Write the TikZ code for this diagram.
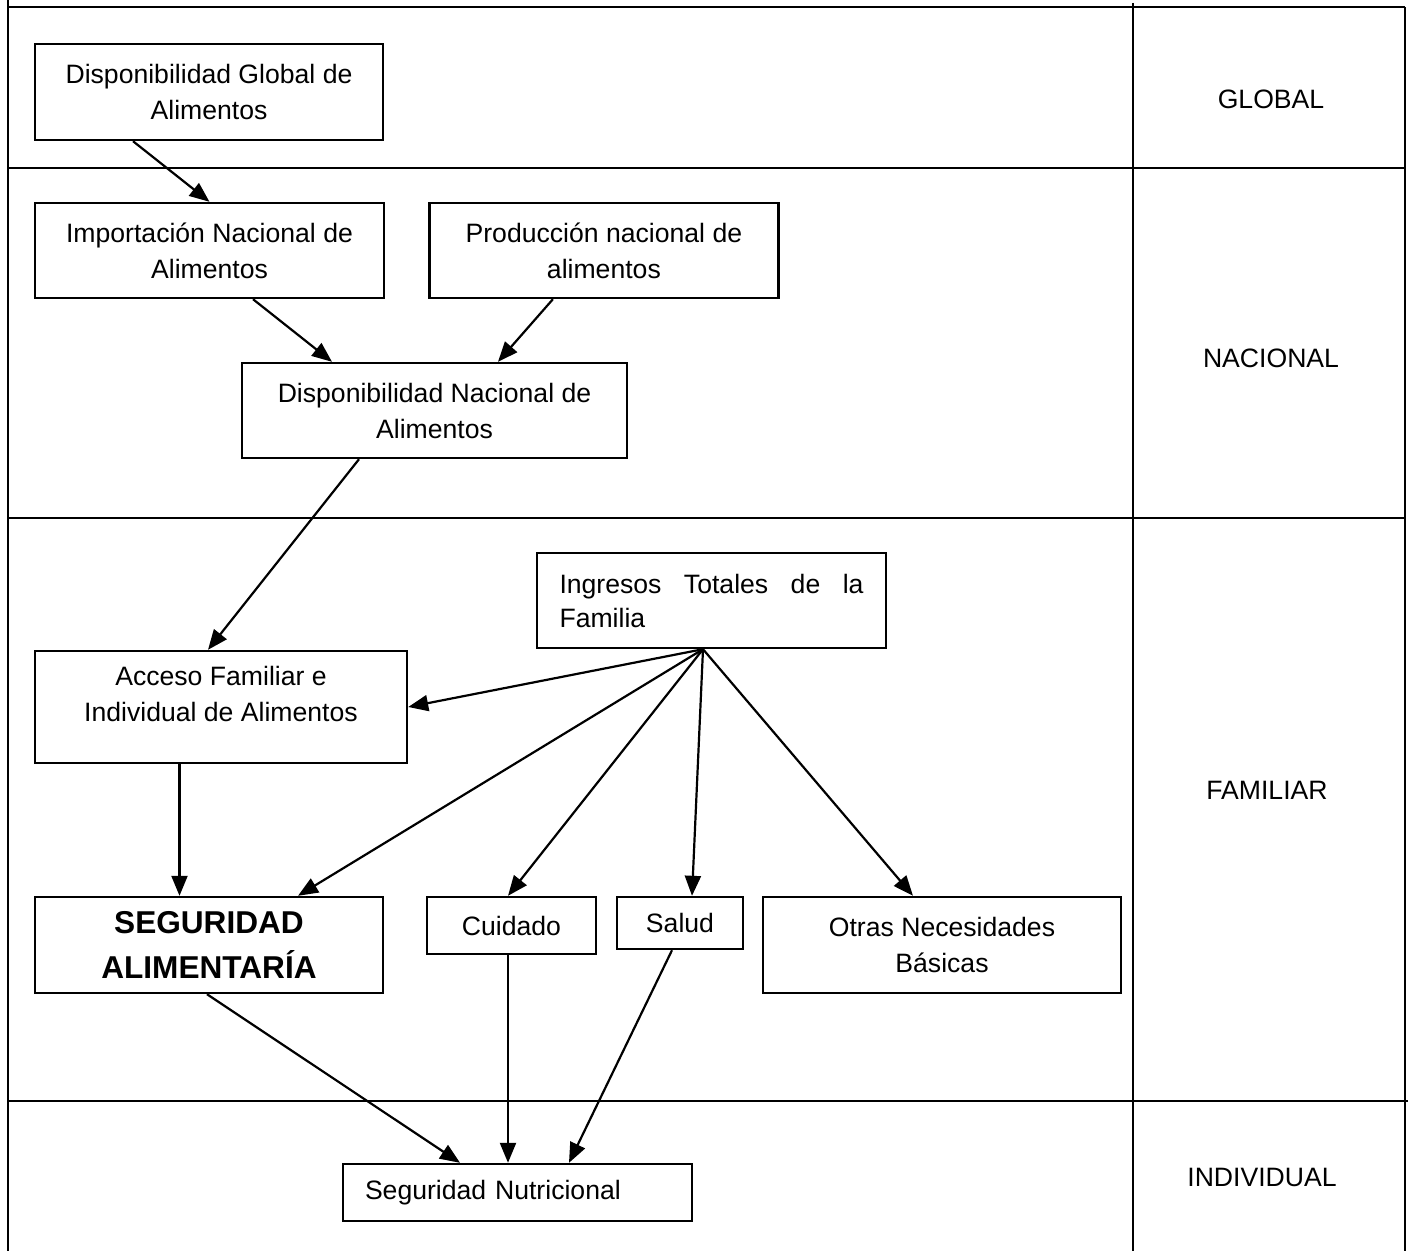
\documentclass[tikz,border=0pt]{standalone}
\usepackage{fontspec}
\setmainfont{Liberation Sans}
\usetikzlibrary{arrows.meta,positioning}
\tikzset{>={Triangle[length=10pt,width=8pt]},node distance=2cm}
\tikzset{box/.style={draw,line width=1.2pt,align=center,inner sep=0pt,
    font=\fontsize{13.3}{18}\selectfont},
  nivel/.style={font=\fontsize{13.3}{18}\selectfont},
  flecha/.style={->,line width=1.1pt},
  rejilla/.style={line width=1.1pt}}

\begin{document}
\begin{tikzpicture}[x=0.5pt,y=-0.5pt]
                \useasboundingbox (0,0) rectangle (1408,1251);
                % tabla de niveles
                \draw[rejilla] (8,0) -- (8,1251);
                \draw[rejilla] (8,7) -- (1405,7);
                \draw[rejilla] (1133,3) -- (1133,1251);
                \draw[rejilla] (1405,7) -- (1405,1251);
                \draw[rejilla] (8,168) -- (1405,168);
                \draw[rejilla] (8,518) -- (1405,518);
                \draw[rejilla] (8,1101) -- (1408,1101);
                \node[nivel] (global) at (1271,99) {GLOBAL};
                \node[nivel] (nacional) at (1271,358) {NACIONAL};
                \node[nivel] (familiar) at (1267,790) {FAMILIAR};
                \node[nivel] (individual) at (1262,1177) {INDIVIDUAL};
                % cajas
                \node[box,minimum width=174pt,minimum height=48pt] (glob) at (209,92) {Disponibilidad Global de\\Alimentos};
                \node[box,minimum width=174.5pt,minimum height=47.5pt] (imp) at (209.5,250.5) {Importación Nacional de\\Alimentos};
                \node[box,minimum width=174.5pt,minimum height=47.5pt] (prod) [right=21.5pt of imp] {Producción nacional de\\alimentos};
                \node[box,minimum width=192.5pt,minimum height=47.5pt] (dnac) at (434.5,410.5) {Disponibilidad Nacional de\\Alimentos};
                \node[box,text width=152pt,inner xsep=11.25pt,align=justify,minimum height=47.5pt,
                    font=\fontsize{13.3}{17}\selectfont] (ingr) at (711.5,600.5) {Ingresos Totales de la \mbox{Familia}};
                \node[box,minimum width=186pt,minimum height=56pt,text depth=13pt] (acc) at (221,707) {Acceso Familiar e\\Individual de Alimentos};
                \node[box,minimum width=174pt,minimum height=48pt,
                    font=\bfseries\fontsize{15.8}{22.5}\selectfont] (segal) at (209,945) {SEGURIDAD\\ALIMENTARÍA};
                \node[box,minimum width=84.5pt,minimum height=28.5pt] (cuid) at (511.5,925.5) {Cuidado};
                \node[box,minimum width=63pt,minimum height=26pt] (salud) at (680,923) {Salud};
                \node[box,minimum width=179pt,minimum height=48pt] (otras) at (942,945) {Otras Necesidades\\Básicas};
                \node[box,text width=152.5pt,inner xsep=11pt,align=left,minimum height=28.5pt] (nutr) at (517.5,1192.5) {Seguridad Nutricional};
                \coordinate (ap) at ([xshift=-4.25pt]ingr.south);
                % flechas
                \path[flecha]
                    ([xshift=-38pt]glob.south) edge (imp.north)
                    ([xshift=21.75pt]imp.south) edge ([xshift=-51.25pt]dnac.north)
                    ([xshift=-25.5pt]prod.south) edge ([xshift=31.75pt]dnac.north)
                    ([xshift=-37.75pt]dnac.south) edge ([xshift=-6.5pt]acc.north)
                    (ap) edge (acc.east)
                    (ap) edge ([xshift=44.5pt]segal.north)
                    (ap) edge ([xshift=-1.75pt]cuid.north)
                    (ap) edge ([xshift=6pt]salud.north)
                    (ap) edge ([xshift=-14.5pt]otras.north)
                    ([xshift=-20.75pt]acc.south) edge ([xshift=-14.75pt]segal.north)
                    ([xshift=-1pt]segal.south) edge ([xshift=-28.75pt]nutr.north)
                    ([xshift=-1.75pt]cuid.south) edge ([xshift=-4.75pt]nutr.north)
                    ([xshift=-4pt]salud.south) edge ([xshift=25.75pt]nutr.north);
            \end{tikzpicture}
\end{document}
